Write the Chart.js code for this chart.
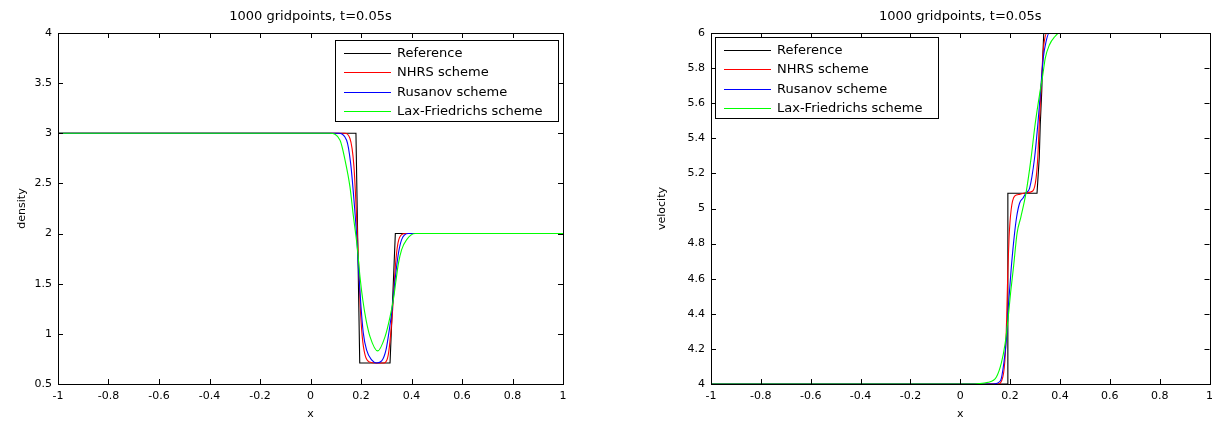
<!DOCTYPE html>
<html lang="en">
<head>
<meta charset="UTF-8" />
<title>1000 gridpoints, t=0.05s</title>
<style>
  body { margin: 0; background: #fff; overflow: hidden; }
  .panel { position: absolute; top: 0; }
  #left { left: 0; }
  #right { left: 640px; }
</style>
</head>
<body>
<div class="panel" id="left"><canvas id="densityChart" width="600" height="421"></canvas></div>
<div class="panel" id="right"><canvas id="velocityChart" width="579" height="421"></canvas></div>

<script src="https://cdn.jsdelivr.net/npm/chart.js"></script>
<script>
// ---- data ----
const seriesNames = ["Reference", "NHRS scheme", "Rusanov scheme", "Lax-Friedrichs scheme"];

const xTickValues = [-1, -0.8, -0.6, -0.4, -0.2, 0, 0.2, 0.4, 0.6, 0.8, 1];
const xTickLabels = ["-1", "-0.8", "-0.6", "-0.4", "-0.2", "0", "0.2", "0.4", "0.6", "0.8", "1"];
const densTickValues = [0.5, 1, 1.5, 2, 2.5, 3, 3.5, 4];
const densTickLabels = ["0.5", "1", "1.5", "2", "2.5", "3", "3.5", "4"];
const velTickValues = [4, 4.2, 4.4, 4.6, 4.8, 5, 5.2, 5.4, 5.6, 5.8, 6];
const velTickLabels = ["4", "4.2", "4.4", "4.6", "4.8", "5", "5.2", "5.4", "5.6", "5.8", "6"];

// density
const refDensX = [-1, 0.18, 0.195, 0.315, 0.336, 1];
const refDensY = [3, 3, 0.71, 0.71, 2, 2];
const nhrsDensX = [-1, 0.135, 0.156, 0.172, 0.183, 0.191, 0.197, 0.205, 0.216, 0.233, 0.262, 0.292, 0.308, 0.319, 0.328, 0.336, 0.346, 0.361, 0.378, 1];
const nhrsDensY = [3, 3, 2.95, 2.67, 2.14, 1.67, 1.27, 0.97, 0.79, 0.72, 0.71, 0.71, 0.79, 1.04, 1.34, 1.67, 1.90, 1.99, 2, 2];
const rusDensX = [-1, 0.110, 0.143, 0.159, 0.172, 0.183, 0.191, 0.200, 0.209, 0.222, 0.242, 0.262, 0.282, 0.299, 0.312, 0.323, 0.335, 0.348, 0.361, 0.387, 1];
const rusDensY = [3, 3, 2.93, 2.70, 2.34, 1.97, 1.61, 1.27, 1.01, 0.84, 0.74, 0.71, 0.73, 0.84, 1.04, 1.24, 1.54, 1.80, 1.94, 2, 2];
const lfDensX = [-1, 0.077, 0.117, 0.137, 0.156, 0.170, 0.185, 0.196, 0.207, 0.220, 0.236, 0.266, 0.295, 0.315, 0.328, 0.339, 0.348, 0.361, 0.381, 0.414, 1];
const lfDensY = [3, 3, 2.93, 2.73, 2.47, 2.17, 1.87, 1.57, 1.34, 1.14, 0.97, 0.83, 0.97, 1.17, 1.34, 1.54, 1.70, 1.84, 1.94, 2, 2];

// velocity
const refVelX = [-1, 0.188, 0.191, 0.308, 0.317, 0.321, 0.327, 0.331, 0.335, 1];
const refVelY = [4, 4, 5.087, 5.087, 5.29, 5.48, 5.67, 5.86, 6, 6];
const nhrsVelX = [-1, 0.151, 0.171, 0.181, 0.186, 0.191, 0.196, 0.204, 0.218, 0.238, 0.264, 0.291, 0.304, 0.311, 0.317, 0.324, 0.331, 0.337, 0.348, 1];
const nhrsVelY = [4, 4, 4.04, 4.175, 4.365, 4.65, 4.84, 4.99, 5.07, 5.08, 5.09, 5.10, 5.17, 5.29, 5.48, 5.67, 5.86, 5.95, 6, 6];
const rusVelX = [-1, 0.131, 0.162, 0.175, 0.186, 0.194, 0.204, 0.215, 0.226, 0.238, 0.252, 0.264, 0.278, 0.298, 0.311, 0.322, 0.333, 0.344, 0.357, 1];
const rusVelY = [4, 4, 4.02, 4.12, 4.27, 4.46, 4.65, 4.82, 4.95, 5.03, 5.06, 5.09, 5.115, 5.286, 5.476, 5.666, 5.856, 5.95, 6, 6];
const lfVelX = [-1, 0.032, 0.112, 0.145, 0.165, 0.180, 0.191, 0.202, 0.214, 0.228, 0.243, 0.264, 0.284, 0.300, 0.320, 0.331, 0.341, 0.357, 0.380, 0.397, 1];
const lfVelY = [4, 4, 4.01, 4.04, 4.12, 4.23, 4.36, 4.52, 4.67, 4.86, 4.95, 5.09, 5.286, 5.476, 5.666, 5.76, 5.856, 5.93, 5.98, 6, 6];

// ---- styling ----
const FONT = "'DejaVu Sans', 'Liberation Sans', Arial, sans-serif";
const seriesColors = ["#000000", "#ff0000", "#0000ff", "#00ff00"];

function pts(xs, ys) {
  return xs.map((x, i) => ({ x: x, y: ys[i] }));
}

function makeDatasets(lists) {
  return lists.map((l, i) => ({
    label: seriesNames[i],
    data: pts(l[0], l[1]),
    borderColor: seriesColors[i],
    borderWidth: 1.1,
    pointRadius: 0,
    fill: false,
    tension: 0,
    cubicInterpolationMode: i === 0 ? "default" : "monotone",
    order: 4 - i
  }));
}

// box, inward ticks on all four sides and the legend box, MATLAB style
const matlabAxes = {
  id: "matlabAxes",
  afterDatasetsDraw(chart, args, opts) {
    const { ctx, chartArea: a, scales } = chart;
    const xs = scales.x, ys = scales.y;
    const L = 5;
    ctx.save();
    ctx.strokeStyle = "#000";
    ctx.lineWidth = 1;
    ctx.beginPath();
    xs.ticks.forEach(t => {
      const px = Math.round(xs.getPixelForValue(t.value)) + 0.5;
      ctx.moveTo(px, a.bottom); ctx.lineTo(px, a.bottom - L);
      ctx.moveTo(px, a.top); ctx.lineTo(px, a.top + L);
    });
    ys.ticks.forEach(t => {
      const py = Math.round(ys.getPixelForValue(t.value)) + 0.5;
      ctx.moveTo(a.left, py); ctx.lineTo(a.left + L, py);
      ctx.moveTo(a.right, py); ctx.lineTo(a.right - L, py);
    });
    ctx.stroke();
    ctx.strokeRect(Math.round(a.left) + 0.5, Math.round(a.top) + 0.5,
                   Math.round(a.right - a.left), Math.round(a.bottom - a.top));

    // legend
    const w = 223, h = 81;
    const bx = opts.anchor === "right" ? Math.round(a.right - opts.dx - w) : Math.round(a.left + opts.dx);
    const by = Math.round(a.top + opts.dy);
    ctx.fillStyle = "#fff";
    ctx.fillRect(bx, by, w, h);
    ctx.strokeStyle = "#000";
    ctx.strokeRect(bx + 0.5, by + 0.5, w, h);
    ctx.font = "13px " + FONT;
    ctx.textBaseline = "middle";
    ctx.textAlign = "left";
    seriesNames.forEach((name, i) => {
      const ry = Math.round(by + 13 + i * 19.3) + 0.5;
      ctx.strokeStyle = seriesColors[i];
      ctx.beginPath();
      ctx.moveTo(bx + 9, ry);
      ctx.lineTo(bx + 56, ry);
      ctx.stroke();
      ctx.fillStyle = "#000";
      ctx.fillText(name, bx + 62, ry);
    });
    ctx.restore();
  }
};

function makeChart(id, lists, yMin, yMax, yTickValues, yTickLabels, yTitle, yWidth, padRight, legendOpts) {
  return new Chart(document.getElementById(id), {
    type: "line",
    data: { datasets: makeDatasets(lists) },
    plugins: [matlabAxes],
    options: {
      responsive: false,
      animation: false,
      events: [],
      layout: { padding: { left: 0, right: padRight, top: 0, bottom: 0 } },
      scales: {
        x: {
          type: "linear",
          min: -1, max: 1,
          afterBuildTicks: s => { s.ticks = xTickValues.map(v => ({ value: v })); },
          afterFit: s => { s.height = 37; },
          grid: { display: false, drawTicks: false },
          border: { display: false },
          ticks: {
            padding: 6, color: "#000", autoSkip: false, maxRotation: 0,
            font: { family: FONT, size: 11 },
            callback: (v, i) => xTickLabels[i]
          },
          title: { display: true, text: "x", color: "#000", font: { family: FONT, size: 11 }, padding: { top: 0, bottom: 0.5 } }
        },
        y: {
          type: "linear",
          min: yMin, max: yMax,
          afterBuildTicks: s => { s.ticks = yTickValues.map(v => ({ value: v })); },
          afterFit: s => { s.width = yWidth; },
          grid: { display: false, drawTicks: false },
          border: { display: false },
          ticks: {
            padding: 6, color: "#000", autoSkip: false,
            font: { family: FONT, size: 11 },
            callback: (v, i) => yTickLabels[i]
          },
          title: { display: true, text: yTitle, color: "#000", font: { family: FONT, size: 11 }, padding: { top: 15.4, bottom: 0 } }
        }
      },
      plugins: {
        legend: { display: false },
        tooltip: { enabled: false },
        title: {
          display: true, text: "1000 gridpoints, t=0.05s", fullSize: false,
          color: "#000", font: { family: FONT, size: 13, weight: "normal" },
          padding: { top: 9, bottom: 8.4 }
        },
        matlabAxes: legendOpts
      }
    }
  });
}

makeChart("densityChart",
  [[refDensX, refDensY], [nhrsDensX, nhrsDensY], [rusDensX, rusDensY], [lfDensX, lfDensY]],
  0.5, 4, densTickValues, densTickLabels, "density", 58, 37,
  { anchor: "right", dx: 5, dy: 7 });

makeChart("velocityChart",
  [[refVelX, refVelY], [nhrsVelX, nhrsVelY], [rusVelX, rusVelY], [lfVelX, lfVelY]],
  4, 6, velTickValues, velTickLabels, "velocity", 71, 6,
  { anchor: "left", dx: 4, dy: 4 });
</script>
</body>
</html>
